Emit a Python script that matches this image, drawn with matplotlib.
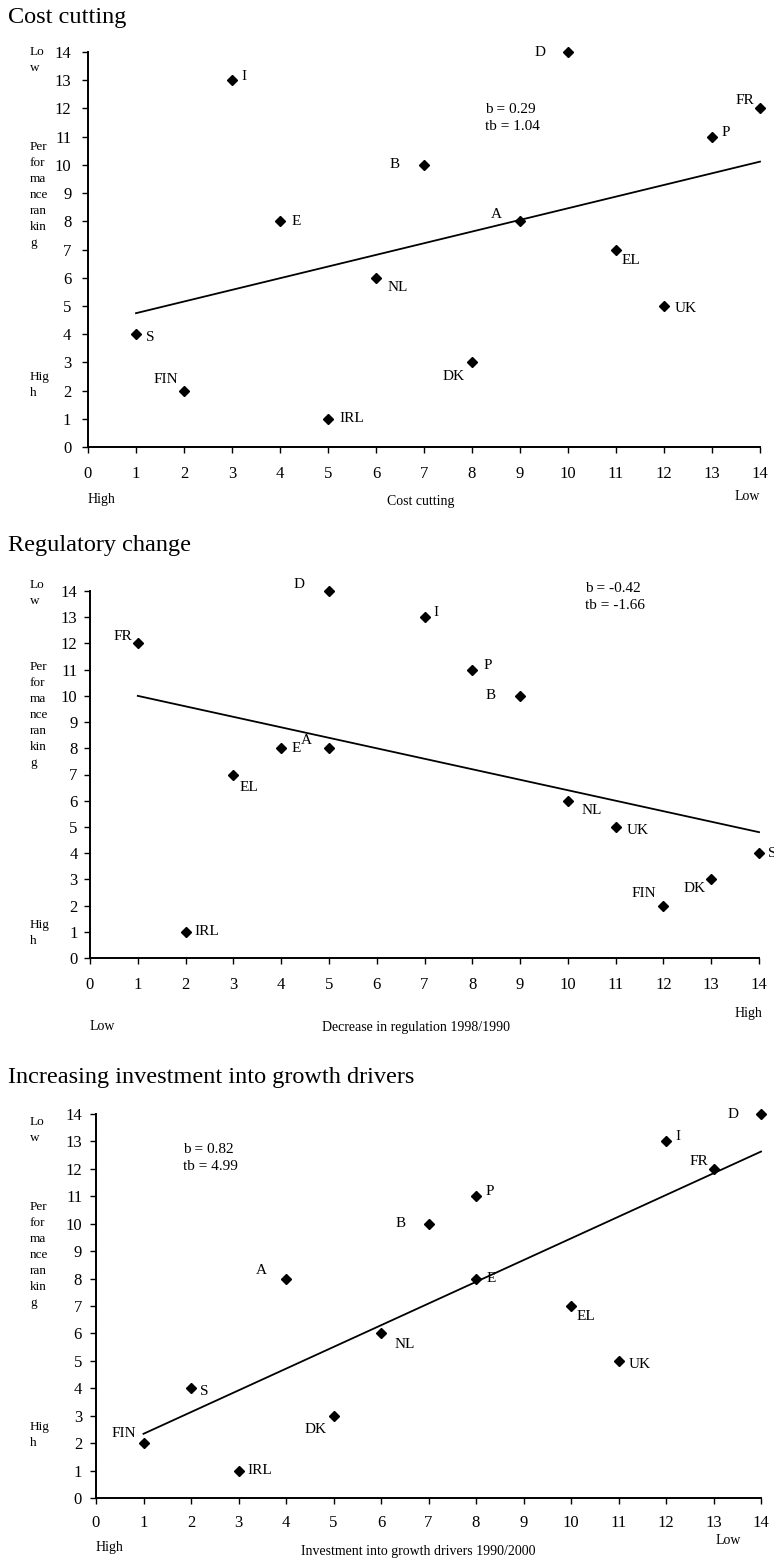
import numpy as np
import matplotlib
matplotlib.use("Agg")
import matplotlib.pyplot as plt

plt.rcParams['font.family'] = ['Liberation Serif', 'DejaVu Serif']

W, H = 774, 1558

countries = ["I", "D", "FR", "P", "B", "E", "A", "EL", "NL", "UK", "S", "DK", "FIN", "IRL"]
performance_rank = [13, 14, 12, 11, 10, 8, 8, 7, 6, 5, 4, 3, 2, 1]

cost_cutting_rank = [3, 10, 14, 13, 7, 4, 9, 11, 6, 12, 1, 8, 2, 5]
regulation_rank = [7, 5, 1, 8, 9, 4, 5, 3, 10, 11, 14, 13, 12, 2]
growth_invest_rank = [12, 14, 13, 8, 7, 8, 4, 10, 6, 11, 2, 5, 1, 3]

titles = ["Cost cutting", "Regulatory change", "Increasing investment into growth drivers"]
stats = ["b = 0.29\ntb = 1.04", "b = -0.42\ntb = -1.66", "b = 0.82\ntb = 4.99"]
xlabels = ["Cost cutting", "Decrease in regulation 1998/1990", "Investment into growth drivers 1990/2000"]
x_low_high = [("High", "Low"), ("Low", "High"), ("High", "Low")]
tick_values = list(range(0, 15))

# label offsets in pixels (dx, dy with dy downwards), ha
off1 = {"I": (9, -4, 'left'), "D": (-22, 0, 'right'), "FR": (-6, -8, 'right'), "P": (10, -4, 'left'),
        "B": (-24, 0, 'right'), "E": (12, 0, 'left'), "A": (-18, -7, 'right'), "EL": (6, 11, 'left'),
        "NL": (12, 10, 'left'), "UK": (11, 3, 'left'), "S": (10, 3, 'left'), "DK": (-7, 14, 'right'),
        "FIN": (-6, -11, 'right'), "IRL": (11, 0, 'left')}
off2 = {"I": (9, -5, 'left'), "D": (-24, -6, 'right'), "FR": (-6, -7, 'right'), "P": (11, -4, 'left'),
        "B": (-24, 0, 'right'), "E": (10, 0, 'left'), "A": (-17, -8, 'right'), "EL": (6, 13, 'left'),
        "NL": (14, 10, 'left'), "UK": (11, 4, 'left'), "S": (9, 0, 'left'), "DK": (-6, 9, 'right'),
        "FIN": (-7, -12, 'right'), "IRL": (9, 0, 'left')}
off3 = {"I": (9, -5, 'left'), "D": (-22, 0, 'right'), "FR": (-5, -7, 'right'), "P": (10, -5, 'left'),
        "B": (-23, 0, 'right'), "E": (11, 0, 'left'), "A": (-19, -8, 'right'), "EL": (6, 11, 'left'),
        "NL": (14, 11, 'left'), "UK": (10, 4, 'left'), "S": (9, 3, 'left'), "DK": (-7, 14, 'right'),
        "FIN": (-7, -10, 'right'), "IRL": (9, 0, 'left')}

def fx(p):
    return p / W

def fy(p):
    return 1 - p / H

fig = plt.figure(figsize=(W / 100, H / 100), dpi=100)

panels = [
    dict(xv=cost_cutting_rank, off=off1, box=(88, 52, 760, 447), title_y=18, stat_xy=(8.27, 12.2),
         ytl_pad=8, xtl_pad=10, ylab=(52, 147, 377), xlab_y=(500, 502, 497), xlab_cx=421, right_x=760),
    dict(xv=regulation_rank, off=off2, box=(90, 591, 759, 958), title_y=545, stat_xy=(10.36, 14.35),
         ytl_pad=5, xtl_pad=10, ylab=(585, 667, 925), xlab_y=(1027, 1027, 1013), xlab_cx=416, right_x=762),
    dict(xv=growth_invest_rank, off=off3, box=(96, 1114, 761, 1498), title_y=1078, stat_xy=(1.83, 12.95),
         ytl_pad=6, xtl_pad=8, ylab=(1122, 1207, 1427), xlab_y=(1547, 1552, 1540), xlab_cx=418, right_x=741),
]

for i, p in enumerate(panels):
    x0, y0, x1, y1 = p["box"]
    ax = fig.add_axes([fx(x0), fy(y1), fx(x1 - x0), (y1 - y0) / H])
    ax.set_xlim(0, 14)
    ax.set_ylim(0, 14)
    for s in ("top", "right"):
        ax.spines[s].set_visible(False)
    for s in ("left", "bottom"):
        ax.spines[s].set_linewidth(1.4)
    ax.set_xticks(tick_values)
    ax.set_yticks(tick_values)
    ax.tick_params(axis='both', direction='out', length=4, width=1, labelsize=12)
    ax.tick_params(axis='x', pad=p["xtl_pad"])
    ax.tick_params(axis='y', pad=p["ytl_pad"])
    ax.patch.set_alpha(0)

    xv = np.array(p["xv"], dtype=float)
    yv = np.array(performance_rank, dtype=float)
    slope, icpt = np.polyfit(xv, yv, 1)
    xl = np.array([1.0, 14.0])
    ax.plot(xl, icpt + slope * xl, color='black', lw=1.3, zorder=2, clip_on=False)
    ax.plot(xv, yv, linestyle='none', marker='D', ms=5, color='black', zorder=3, clip_on=False)
    for c, xx, yy in zip(countries, xv, yv):
        dx, dy, ha = p["off"][c]
        ax.annotate(c, (xx, yy), xytext=(dx, -dy), textcoords='offset pixels',
                    ha=ha, va='center', fontsize=11, annotation_clip=False)

    sx, sy = p["stat_xy"]
    ax.text(sx, sy, stats[i], fontsize=11, va='top', ha='left', linespacing=1.45, clip_on=False)

    fig.text(fx(8), fy(p["title_y"]), titles[i], fontsize=17.5, ha='left', va='center')

    # y-axis annotation stack
    lo_y, per_y, hig_y = p["ylab"]
    fig.text(fx(30), fy(lo_y - 6), "Lo\nw", fontsize=9.5, ha='left', va='top', linespacing=1.45)
    fig.text(fx(30), fy(per_y - 6), "Per\nfor\nma\nnce\nran\nkin\ng", fontsize=9.5, ha='left', va='top',
             linespacing=1.45)
    fig.text(fx(30), fy(hig_y - 6), "Hig\nh", fontsize=9.5, ha='left', va='top', linespacing=1.45)

    ly_left, ly_mid, ly_right = p["xlab_y"]
    left_txt, right_txt = x_low_high[i]
    fig.text(fx(x0), fy(ly_left), left_txt, fontsize=10, ha='left', va='center')
    fig.text(fx(p["xlab_cx"]), fy(ly_mid), xlabels[i], fontsize=10, ha='center', va='center')
    fig.text(fx(p["right_x"]), fy(ly_right), right_txt, fontsize=10, ha='right', va='center')

fig.savefig("out.png", dpi=100)
